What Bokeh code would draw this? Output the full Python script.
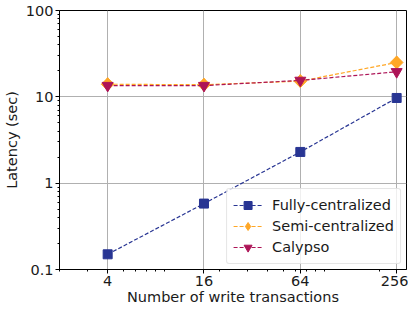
import math
from bokeh.plotting import figure
from bokeh.models import FixedTicker, CustomJSTickFormatter, Legend, LegendItem, Range1d
from bokeh.embed import file_html
from bokeh.resources import INLINE

x_vals = [4, 16, 64, 256]
fully = [0.15, 0.58, 2.3, 9.7]
semi = [14.0, 13.8, 15.2, 25.0]
calypso = [13.5, 13.5, 15.5, 19.5]
x_ticks = [4, 16, 64, 256]
y_ticks = [0.1, 1, 10, 100]
x_minor = [2, 3, 5, 6, 7, 8, 9, 20, 30, 40, 50, 60, 70, 80, 90, 200]
y_minor = [m * d for d in (0.1, 1, 10) for m in range(2, 10)]

FONT = "DejaVu Sans"
FS = "14.5px"

p = figure(width=408, height=309, x_axis_type="log", y_axis_type="log",
           output_backend="svg", toolbar_location=None,
           x_range=Range1d(2, 295), y_range=Range1d(0.1, 100),
           min_border_left=58, min_border_right=2, min_border_top=10, min_border_bottom=40)

p.outline_line_color = "black"
p.outline_line_width = 1
p.outline_line_alpha = 1

for ax, ticks, minor in ((p.xaxis[0], x_ticks, x_minor), (p.yaxis[0], y_ticks, y_minor)):
    ax.ticker = FixedTicker(ticks=ticks, minor_ticks=minor)
    ax.formatter = CustomJSTickFormatter(code="return String(Math.round(tick*10)/10);")
    ax.major_label_text_font = FONT
    ax.major_label_text_font_size = FS
    ax.major_label_text_color = "#1a1a1a"
    ax.axis_label_text_font = FONT
    ax.axis_label_text_font_size = FS
    ax.axis_label_text_font_style = "normal"
    ax.axis_label_text_color = "#1a1a1a"
    ax.major_tick_out = 4
    ax.major_tick_in = 0
    ax.minor_tick_out = 2
    ax.minor_tick_in = 0
    ax.axis_line_color = "black"
    ax.major_label_standoff = 2

p.xaxis.axis_label = "Number of write transactions"
p.yaxis.axis_label = "Latency (sec)"
p.xaxis.axis_label_standoff = 0
p.yaxis.axis_label_standoff = 3

p.xgrid.ticker = FixedTicker(ticks=x_ticks)
p.ygrid.ticker = FixedTicker(ticks=y_ticks)
p.grid.grid_line_color = "#b0b0b0"
p.grid.grid_line_width = 1

c_fully = "#283593"
c_semi = "#ffa726"
c_caly = "#ad1457"

# Fully-centralized
l1 = p.line(x_vals, fully, line_color=c_fully, line_width=1.2, line_dash="4 2")
s1 = p.scatter(x_vals, fully, marker="square", size=9, fill_color=c_fully, line_color=c_fully)

# Semi-centralized: diamond for legend, drawn underneath a rotated square (matplotlib "D")
l2 = p.line(x_vals, semi, line_color=c_semi, line_width=1.2, line_dash="4 2")
s2_leg = p.scatter(x_vals, semi, marker="diamond", size=13, fill_color=c_semi, line_color=c_semi)
s2 = p.scatter(x_vals, semi, marker="square", size=9, angle=math.pi / 4,
               fill_color=c_semi, line_color=c_semi)

# Calypso
l3 = p.line(x_vals, calypso, line_color=c_caly, line_width=1.2, line_dash="4 2")
s3 = p.scatter(x_vals, calypso, marker="inverted_triangle", size=11, fill_color=c_caly, line_color=c_caly)

items = [LegendItem(label="Fully-centralized", renderers=[l1, s1]),
         LegendItem(label="Semi-centralized", renderers=[l2, s2_leg]),
         LegendItem(label="Calypso", renderers=[l3, s3])]

legend = Legend(items=items, location="bottom_right")
legend.label_text_font = FONT
legend.label_text_font_size = FS
legend.label_text_color = "#1a1a1a"
legend.border_line_color = "#cccccc"
legend.border_radius = 3
legend.background_fill_alpha = 0.8
legend.glyph_width = 29
legend.glyph_height = 20
legend.label_height = 20
legend.spacing = 1
legend.padding = 6
legend.margin = 5
legend.label_standoff = 10
p.add_layout(legend)

open("out.html", "w").write(file_html(p, INLINE))
